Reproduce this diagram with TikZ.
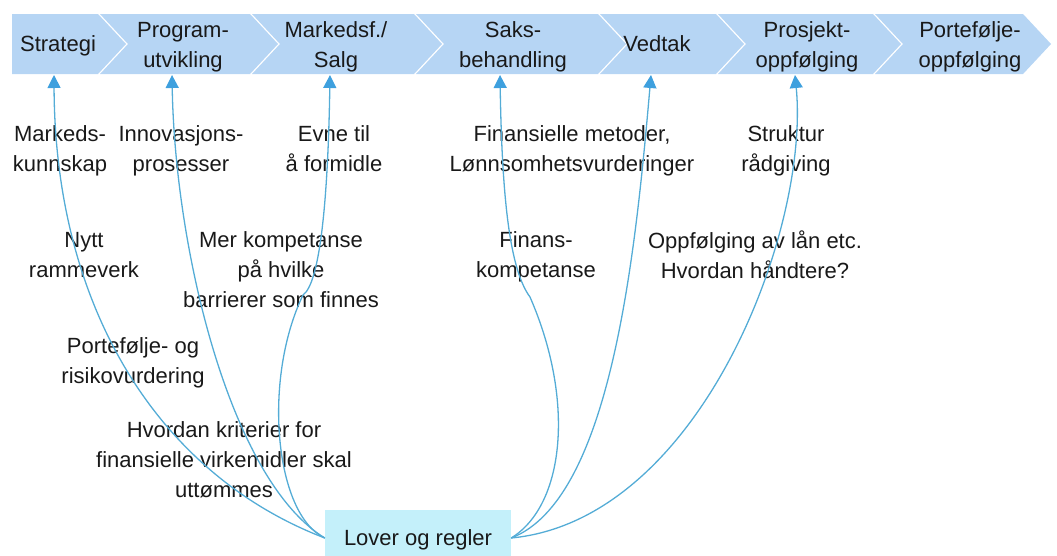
\documentclass[tikz,border=0pt]{standalone}
\usepackage{fontspec}
\setmainfont{Liberation Sans}
\usetikzlibrary{arrows.meta}
\definecolor{chevfill}{RGB}{182,213,244}
\definecolor{lawfill}{RGB}{196,240,250}
\definecolor{linkblue}{RGB}{84,172,214}
\definecolor{tipblue}{RGB}{62,160,222}
\definecolor{ink}{RGB}{25,25,25}
\begin{document}
\begin{tikzpicture}[x=1pt,y=-1pt,
  lbl/.style={align=center,font=\fontsize{22}{30}\selectfont,text=ink,inner sep=0pt},
  conn/.style={draw=linkblue,line width=1.3pt,
    -{Triangle[width=13pt,length=13pt,fill=tipblue,color=tipblue]}}]
\useasboundingbox (0,0) rectangle (1057,555);
\clip (0,0) rectangle (1057,555);

% process bar: first chevron has a flat left side, the rest are notched
\def\dp{28}
\fill[chevfill] (12,14) -- (98,14) -- (98+\dp,44) -- (98,74) -- (12,74) -- cycle;
\foreach \a/\b in {98/250, 250/414, 414/598, 598/716, 716/873, 873/1023}{
  \fill[chevfill] (\a+2,14) -- (\b,14) -- (\b+\dp,44) -- (\b,74) -- (\a+2,74) -- (\a+2+\dp,44) -- cycle;
}

% stage labels
\node[lbl] (s1) at (58,44) {Strategi};
\node[lbl] (s2) at (183,45) {Program-\\utvikling};
\node[lbl] (s3) at (336,45) {Markedsf./\\Salg};
\node[lbl] (s4) at (513,45) {Saks-\\behandling};
\node[lbl] (s5) at (657,44) {Vedtak};
\node[lbl] (s6) at (807,45) {Prosjekt-\\oppfølging};
\node[lbl] (s7) at (970,45) {Portefølje-\\oppfølging};

% arrow targets under the stages
\coordinate (a1) at (54,75);
\coordinate (a2) at (172,75);
\coordinate (a3) at (330,75);
\coordinate (a4) at (500,75);
\coordinate (a5) at (651,75);
\coordinate (a6) at (795,75);

% competence notes
\node[lbl] (k1) at (60,149) {Markeds-\\kunnskap};
\node[lbl] (k2) at (181,149) {Innovasjons-\\prosesser};
\node[lbl] (k3) at (334,149) {Evne til\\å formidle};
\node[lbl] (k4) at (572,149) {Finansielle metoder,\\Lønnsomhetsvurderinger};
\node[lbl] (k5) at (786,149) {Struktur\\rådgiving};
\node[lbl] (k6) at (84,255) {Nytt\\rammeverk};
\node[lbl] (k7) at (281,270) {Mer kompetanse\\på hvilke\\barrierer som finnes};
\node[lbl] (k8) at (536,255) {Finans-\\kompetanse};
\node[lbl] (k9) at (755,255) {Oppfølging av lån etc.\\Hvordan håndtere?};
\node[lbl] (k10) at (133,361) {Portefølje- og\\risikovurdering};
\node[lbl] (k11) at (224,460) {Hvordan kriterier for\\finansielle virkemidler skal\\uttømmes};

% rules box at the bottom
\node[fill=lawfill,minimum width=186pt,minimum height=56pt,inner sep=0pt,
  font=\fontsize{22}{30}\selectfont,text=ink] (lov) at (418,538) {Lover og regler};

% links from the rules box to the stages
\draw[conn] (lov.west) .. controls (160,475) and (55,310) .. (a1);
\draw[conn] (lov.west) .. controls (230,480) and (175,250) .. (a2);
\draw[conn] (lov.west) .. controls (275,515) and (262,380) .. (303,295)
  .. controls (320,283) and (328,200) .. (a3);
\draw[conn] (lov.east) .. controls (565,505) and (575,400) .. (530,297)
  .. controls (510,270) and (502,200) .. (a4);
\draw[conn] (lov.east) .. controls (610,500) and (635,260) .. (a5);
\draw[conn] (lov.east) .. controls (700,520) and (810,230) .. (a6);
\end{tikzpicture}
\end{document}
